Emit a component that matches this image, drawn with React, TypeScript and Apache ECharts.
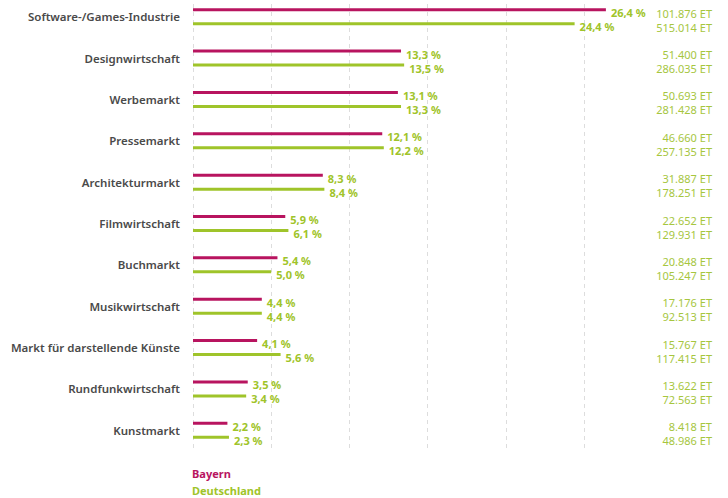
import React, { useEffect, useRef } from "react";
import * as echarts from "echarts";

const categories = [
  "Software-/Games-Industrie",
  "Designwirtschaft",
  "Werbemarkt",
  "Pressemarkt",
  "Architekturmarkt",
  "Filmwirtschaft",
  "Buchmarkt",
  "Musikwirtschaft",
  "Markt für darstellende Künste",
  "Rundfunkwirtschaft",
  "Kunstmarkt",
];
const bayern = [26.4, 13.3, 13.1, 12.1, 8.3, 5.9, 5.4, 4.4, 4.1, 3.5, 2.2];
const deutschland = [24.4, 13.5, 13.3, 12.2, 8.4, 6.1, 5.0, 4.4, 5.6, 3.4, 2.3];
const bayernET = ["101.876", "51.400", "50.693", "46.660", "31.887", "22.652", "20.848", "17.176", "15.767", "13.622", "8.418"];
const deutschlandET = ["515.014", "286.035", "281.428", "257.135", "178.251", "129.931", "105.247", "92.513", "117.415", "72.563", "48.986"];

const MAGENTA = "#b8145f";
const GREEN = "#9fc42a";
const ETGREEN = "#a6c63e";
const FONT = "Noto Sans";

export default function App() {
  const ref = useRef<HTMLDivElement>(null);
  useEffect(() => {
    if (!ref.current) return;
    const chart = echarts.init(ref.current, null, { renderer: "svg" });
    const pctLabel = {
      show: true,
      position: "right",
      distance: 5,
      offset: [0, 3],
      color: GREEN,
      fontFamily: FONT,
      fontSize: 11,
      lineHeight: 12,
      fontWeight: "bold",
      formatter: (p: any) => p.value.toFixed(1).replace(".", ",") + " %",
    };
    const etAxis = (labels: string[], verticalAlign: string, lineHeight: number) => ({
      type: "category",
      data: categories,
      inverse: true,
      position: "right",
      axisLine: { show: false },
      axisTick: { show: false },
      splitLine: { show: false },
      axisLabel: {
        margin: 128,
        align: "right",
        verticalAlign,
        lineHeight,
        color: ETGREEN,
        fontFamily: FONT,
        fontSize: 11,
        formatter: (_v: string, i: number) => `${labels[i]} ET`,
      },
    });
    const legendItem = (name: string, color: string, top: number) => ({
      orient: "vertical",
      left: 182,
      top,
      itemWidth: 0,
      itemHeight: 0,
      selectedMode: false,
      textStyle: { fontFamily: FONT, fontSize: 11, fontWeight: "bold", color },
      data: [{ name, textStyle: { color } }],
    });
    chart.setOption({
      animation: false,
      grid: { left: 193, top: 0, bottom: 47, width: 391, containLabel: false },
      legend: [legendItem("Bayern", MAGENTA, 467), legendItem("Deutschland", GREEN, 484)],
      xAxis: {
        type: "value",
        min: 0,
        max: 25,
        interval: 5,
        axisLabel: { show: false },
        axisLine: { show: false },
        axisTick: { show: false },
        splitLine: { show: true, lineStyle: { color: "#dddddd", type: [4, 4], width: 1 } },
      },
      yAxis: [
        {
          type: "category",
          data: categories,
          inverse: true,
          axisLine: { show: false },
          axisTick: { show: false },
          axisLabel: {
            margin: 13,
            color: "#4a4a4a",
            fontFamily: FONT,
            fontSize: 11.5,
            fontWeight: 600,
          },
        },
        etAxis(bayernET, "bottom", 7),
        etAxis(deutschlandET, "top", 21),
      ],
      series: [
        {
          name: "Bayern",
          type: "bar",
          data: bayern,
          barWidth: 3,
          barGap: "367%",
          clip: false,
          itemStyle: { color: MAGENTA },
          label: pctLabel,
        },
        {
          name: "Deutschland",
          type: "bar",
          data: deutschland,
          barWidth: 3,
          barGap: "367%",
          clip: false,
          itemStyle: { color: GREEN },
          label: pctLabel,
        },
      ],
    });
    return () => chart.dispose();
  }, []);
  return (
    <div
      ref={ref}
      style={{ position: "fixed", left: 0, top: -4, width: 728, height: 502, background: "#fff" }}
    />
  );
}
